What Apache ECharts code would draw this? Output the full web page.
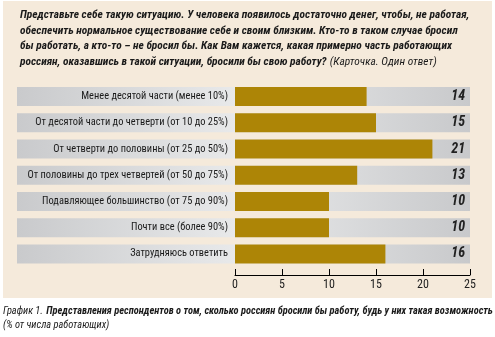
<!DOCTYPE html>
<html><head><meta charset="utf-8">
<script src="https://cdn.jsdelivr.net/npm/echarts@6/dist/echarts.min.js"></script>
<style>html,body{margin:0;padding:0;background:#fff}#c{width:495px;height:337px}</style>
</head><body><div id="c"></div>
<script>
const categories = [
  'Менее десятой части (менее 10%)',
  'От десятой части до четверти (от 10 до 25%)',
  'От четверти до половины (от 25 до 50%)',
  'От половины до трех четвертей (от 50 до 75%)',
  'Подавляющее большинство (от 75 до 90%)',
  'Почти все (более 90%)',
  'Затрудняюсь ответить'
];
const values = [14, 15, 21, 13, 10, 10, 16];
const axisMax = 25;
const axisInterval = 5;

const FONT = '"Roboto Condensed","DejaVu Sans Condensed",sans-serif';
const chart = echarts.init(document.getElementById('c'), null, {renderer: 'canvas'});
const gridTop = 83.5, gridH = 183.5;
chart.setOption({
  animation: false,
  backgroundColor: '#ffffff',
  graphic: [
    {type: 'rect', z: -10, shape: {x: 3, y: 1, width: 489, height: 297}, style: {fill: '#f5eadb'}},
    {type: 'text', left: 20, top: 10, style: {
      text: '{b|Представьте себе такую ситуацию. У человека появилось достаточно денег, чтобы, не работая,}\n' +
            '{b|обеспечить нормальное существование себе и своим близким. Кто-то в таком случае бросил}\n' +
            '{b|бы работать, а кто-то – не бросил бы. Как Вам кажется, какая примерно часть работающих}\n' +
            '{b|россиян, оказавшись в такой ситуации, бросили бы свою работу?} {r|(Карточка. Один ответ)}',
      rich: {
        b: {fontFamily: FONT, fontSize: 11.4, fontWeight: 'bold', fontStyle: 'italic', fill: '#1a1a1a', lineHeight: 15.4},
        r: {fontFamily: FONT, fontSize: 11.4, fontStyle: 'italic', fill: '#1a1a1a', lineHeight: 15.4}
      }
    }},
    {type: 'text', left: 3, top: 305, style: {
      text: '{r|График 1.} {b|Представления респондентов о том, сколько россиян бросили бы работу, будь у них такая возможность}\n{r|(% от числа работающих)}',
      rich: {
        b: {fontFamily: FONT, fontSize: 10.4, fontWeight: 'bold', fontStyle: 'italic', fill: '#1a1a1a', lineHeight: 14},
        r: {fontFamily: FONT, fontSize: 10.4, fontStyle: 'italic', fill: '#1a1a1a', lineHeight: 14}
      }
    }}
  ],
  grid: [
    {left: 235, top: gridTop, width: 235, height: gridH},
    {left: 17, top: gridTop, width: 218, height: gridH}
  ],
  xAxis: [
    {gridIndex: 0, type: 'value', min: 0, max: axisMax, interval: axisInterval, offset: 8,
      axisLine: {show: true, lineStyle: {color: '#000', width: 1}},
      axisTick: {show: true, inside: true, length: 6, lineStyle: {color: '#000'}},
      splitLine: {show: false},
      axisLabel: {fontFamily: FONT, fontSize: 12, color: '#222', margin: 4}},
    {gridIndex: 1, type: 'value', min: 0, max: 1, show: false}
  ],
  yAxis: [
    {gridIndex: 0, type: 'category', data: categories, inverse: true, show: false},
    {gridIndex: 1, type: 'category', data: categories, inverse: true, show: false}
  ],
  series: [
    {type: 'bar', xAxisIndex: 0, yAxisIndex: 0, barWidth: 19, barGap: '-100%', silent: true,
      data: categories.map(() => axisMax),
      itemStyle: {color: new echarts.graphic.LinearGradient(0, 0, 1, 0, [
        {offset: 0, color: '#eaebec'}, {offset: 1, color: '#c8c9cb'}])},
      label: {show: true, position: 'insideRight', distance: 5,
        formatter: p => String(values[p.dataIndex]),
        fontFamily: FONT, fontSize: 14, fontWeight: 'bold', fontStyle: 'italic', color: '#222'}},
    {type: 'bar', xAxisIndex: 0, yAxisIndex: 0, barWidth: 19, barGap: '-100%', silent: true,
      data: values, itemStyle: {color: '#ad8506'}},
    {type: 'bar', xAxisIndex: 1, yAxisIndex: 1, barWidth: 19, silent: true,
      data: categories.map(() => 1),
      itemStyle: {color: new echarts.graphic.LinearGradient(0, 0, 1, 0, [
        {offset: 0, color: '#c9cacc'}, {offset: 1, color: '#e8e9ea'}])},
      label: {show: true, position: 'insideRight', distance: 7, formatter: '{b}',
        fontFamily: FONT, fontSize: 10.4, color: '#1a1a1a'}}
  ]
});
</script></body></html>
